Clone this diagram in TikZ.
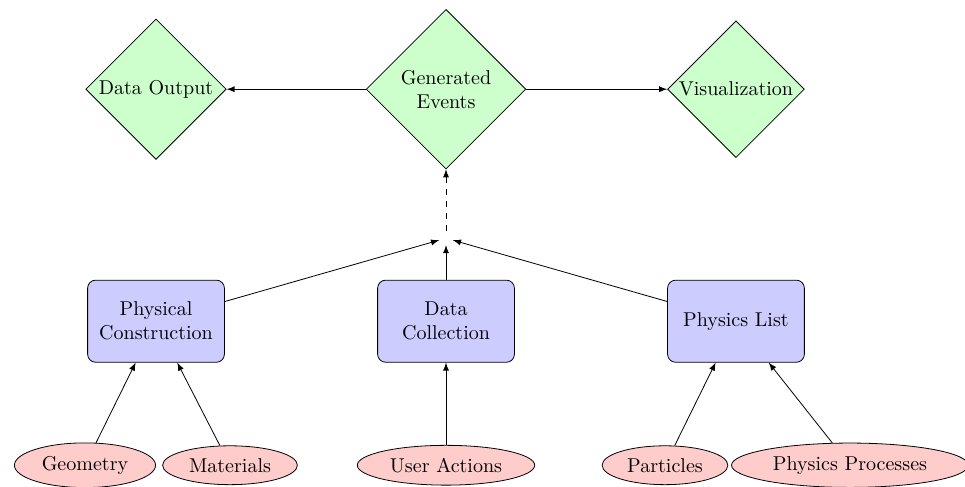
\documentclass[tikz,border=0pt]{standalone}
\usepackage{amsmath}
\usepackage{tikz}
\usetikzlibrary{arrows,%
                shapes.geometric}

\begin{document}
\begin{tikzpicture}[>=latex]
  \tikzstyle{Output}=[diamond,draw,fill=green!20,align=center,inner sep=1pt,minimum size=2.4cm]
  \tikzstyle{Module}=[rectangle,draw,rounded corners,fill=blue!20,align=center,
                      minimum width=2.4cm,minimum height=1.44cm]
  \tikzstyle{Input}=[ellipse,draw,fill=red!20]
  \useasboundingbox (0,0) rectangle (16.93,8.53);
  % top row
  \node[Output] (Out) at (2.737,6.965) {Data Output};
  \node[Output,minimum size=2.8cm] (Events) at (7.825,6.965) {Generated\\Events};
  \node[Output] (Vis) at (12.912,6.965) {Visualization};
  \node[inner sep=3.3pt] (Join) at (7.825,4.351) {};
  % modules
  \node[Module] (Phys) at (2.737,2.895) {Physical\\Construction};
  \node[Module] (Coll) at (7.825,2.895) {Data\\Collection};
  \node[Module] (List) at (12.912,2.895) {Physics List};
  % inputs
  \node[Input] (Geo) at (1.491,0.368) {Geometry};
  \node[Input] (Mat) at (4.035,0.368) {Materials};
  \node[Input] (User) at (7.825,0.368) {User Actions};
  \node[Input] (Part) at (11.667,0.368) {Particles};
  \node[Input] (Proc) at (14.912,0.368) {Physics Processes};
  \tikzstyle{EdgeStyle}=[->]
  \draw[EdgeStyle] (Events) -- (Out);
  \draw[EdgeStyle] (Events) -- (Vis);
  \draw[EdgeStyle,dashed] (Join) -- (Events);
  \draw[EdgeStyle] (Phys) -- (Join);
  \draw[EdgeStyle] (Coll) -- (Join);
  \draw[EdgeStyle] (List) -- (Join);
  \draw[EdgeStyle] (Geo) -- (Phys);
  \draw[EdgeStyle] (Mat) -- (Phys);
  \draw[EdgeStyle] (User) -- (Coll);
  \draw[EdgeStyle] (Part) -- (List);
  \draw[EdgeStyle] (Proc) -- (List);
\end{tikzpicture}
\end{document}
